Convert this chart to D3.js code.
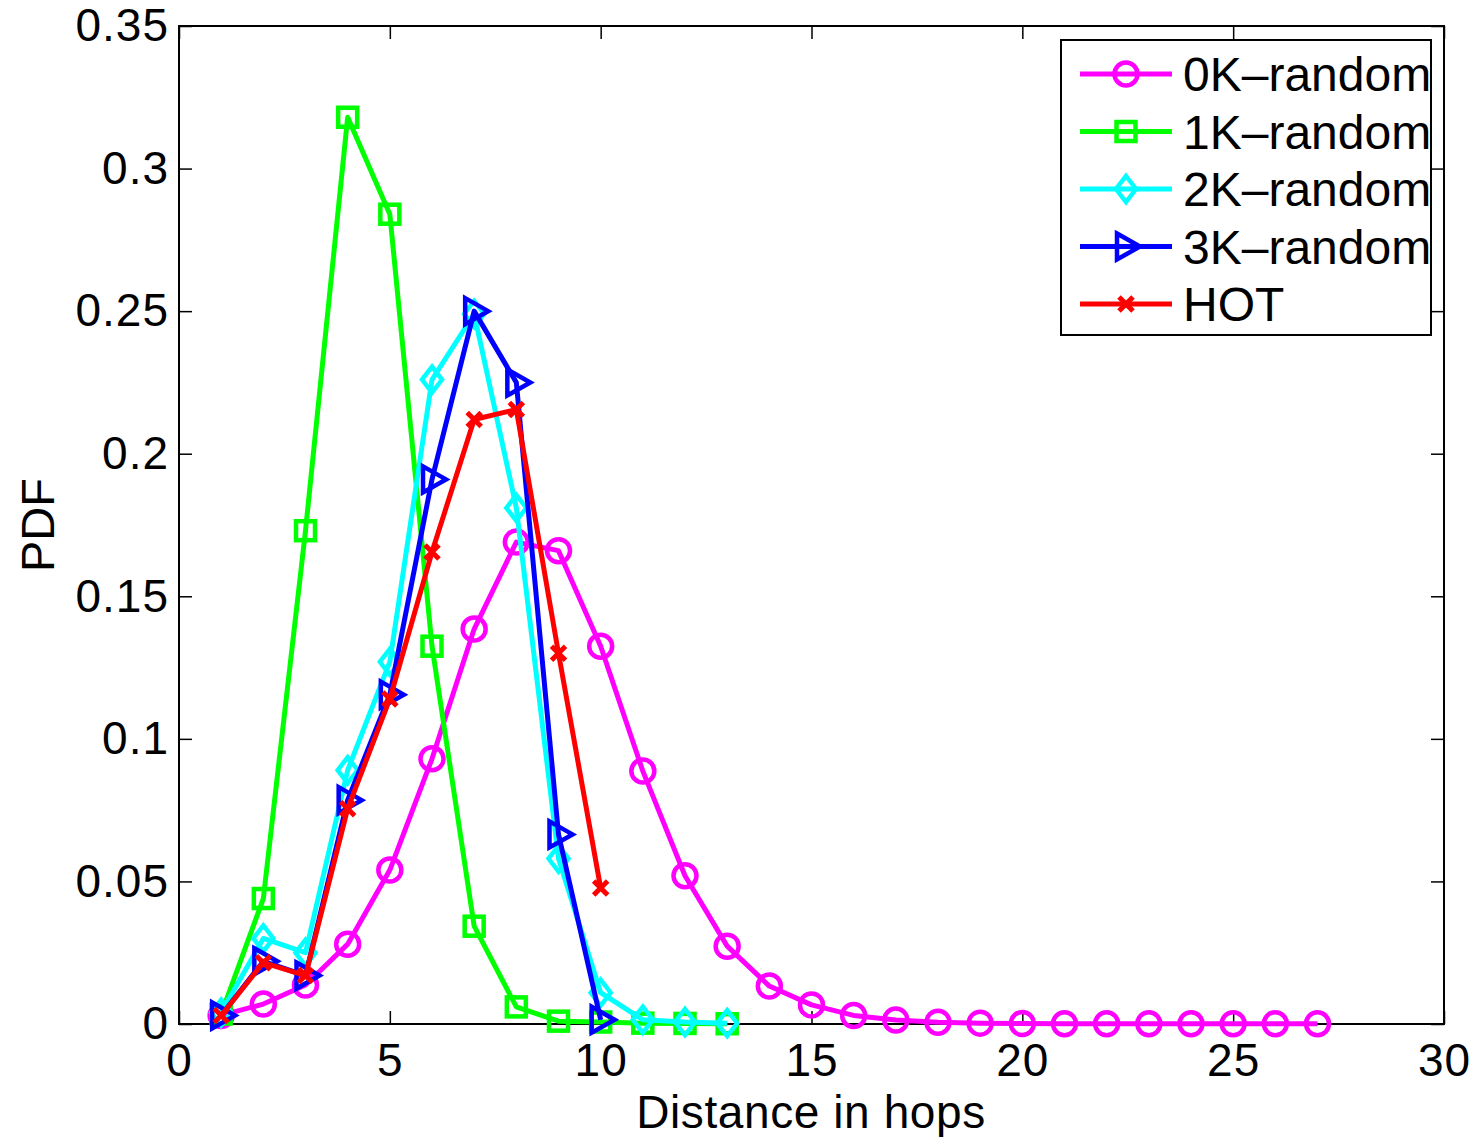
<!DOCTYPE html>
<html><head><meta charset="utf-8">
<script src="https://cdn.jsdelivr.net/npm/d3@7"></script>
<style>body{margin:0;background:#fff;} svg{display:block;} text{font-family:"Liberation Sans",Arial,sans-serif;}</style>
</head><body><svg id="c" width="1478" height="1137"></svg>
<script>
const hops0K = [1,2,3,4,5,6,7,8,9,10,11,12,13,14,15,16,17,18,19,20,21,22,23,24,25,26,27];
const pdf0K = [0.003,0.007,0.0137,0.028,0.054,0.093,0.1385,0.169,0.166,0.1325,0.0887,0.052,0.0273,0.0133,0.0067,0.003,0.0014,0.0006,0.0003,0.0002,0.0001,0.0001,0.0001,0.0001,0.0001,0.0001,0.0001];
const hops1K = [1,2,3,4,5,6,7,8,9,10,11,12,13];
const pdf1K = [0.0035,0.044,0.173,0.318,0.284,0.1325,0.0343,0.006,0.001,0.0007,0.0003,0.0002,0.0001];
const hops2K = [1,2,3,4,5,6,7,8,9,10,11,12,13];
const pdf2K = [0.004,0.030,0.025,0.089,0.127,0.226,0.249,0.181,0.058,0.011,0.0015,0.0007,0.0003];
const hops3K = [1,2,3,4,5,6,7,8,9,10];
const pdf3K = [0.003,0.022,0.017,0.0785,0.1155,0.191,0.250,0.225,0.0665,0.0015];
const hopsHOT = [1,2,3,4,5,6,7,8,9,10];
const pdfHOT = [0.003,0.0215,0.017,0.0755,0.114,0.1655,0.212,0.2155,0.130,0.0477];
const seriesNames = ["0K\u2013random","1K\u2013random","2K\u2013random","3K\u2013random","HOT"];
const seriesColors = ["#ff00ff","#00ff00","#00ffff","#0000ff","#ff0000"];
const seriesMarkers = ["circle","square","diamond","triangle","x"];
const xTicks = [0,5,10,15,20,25,30];
const yTicks = [0,0.05,0.1,0.15,0.2,0.25,0.3,0.35];
const xLabel = "Distance in hops";
const yLabel = "PDF";

const series = [
  {x:hops0K,y:pdf0K},{x:hops1K,y:pdf1K},{x:hops2K,y:pdf2K},{x:hops3K,y:pdf3K},{x:hopsHOT,y:pdfHOT}
].map((s,i)=>({name:seriesNames[i],color:seriesColors[i],marker:seriesMarkers[i],pts:s.x.map((v,j)=>[v,s.y[j]])}));

const svg = d3.select("#c");
const L=179,R=1444,T=26,B=1024;
const x = d3.scaleLinear().domain([0,30]).range([L,R]);
const y = d3.scaleLinear().domain([0,0.35]).range([B,T]);

const fmtY = d => d===0 ? "0" : String(+d.toFixed(2));
const tl = 13;
const tickFont = 46, tickLS = 1;
svg.append("g").attr("transform",`translate(0,${B})`)
  .call(d3.axisBottom(x).tickValues(xTicks).tickSize(-tl).tickPadding(19).tickFormat(d3.format("d")))
  .call(g=>{g.select(".domain").remove();g.selectAll("text").attr("font-size",tickFont).attr("letter-spacing",tickLS).attr("fill","#000").attr("dy","0.71em");g.selectAll("line").attr("stroke","#000").attr("stroke-width",1.5);});
svg.append("g").attr("transform",`translate(0,${T})`)
  .call(d3.axisTop(x).tickValues(xTicks).tickSize(-tl).tickFormat(""))
  .call(g=>{g.select(".domain").remove();g.selectAll("line").attr("stroke","#000").attr("stroke-width",1.5);});
svg.append("g").attr("transform",`translate(${L},0)`)
  .call(d3.axisLeft(y).tickValues(yTicks).tickSize(-tl).tickPadding(10).tickFormat(fmtY))
  .call(g=>{g.select(".domain").remove();g.selectAll("text").attr("font-size",tickFont).attr("letter-spacing",tickLS).attr("fill","#000");g.selectAll("line").attr("stroke","#000").attr("stroke-width",1.5);});
svg.append("g").attr("transform",`translate(${R},0)`)
  .call(d3.axisRight(y).tickValues(yTicks).tickSize(-tl).tickFormat(""))
  .call(g=>{g.select(".domain").remove();g.selectAll("line").attr("stroke","#000").attr("stroke-width",1.5);});
svg.append("rect").attr("x",L).attr("y",T).attr("width",R-L).attr("height",B-T)
  .attr("fill","none").attr("stroke","#000").attr("stroke-width",2);

svg.append("text").attr("x",811).attr("y",1128).attr("text-anchor","middle").attr("font-size",46).attr("letter-spacing",0.6).text(xLabel);
svg.append("text").attr("transform",`translate(54,525) rotate(-90)`).attr("text-anchor","middle").attr("font-size",47).text(yLabel);

function drawMarker(g,type,color,cx,cy){
  const sw=4.5;
  if(type==="circle") g.append("circle").attr("cx",cx).attr("cy",cy).attr("r",11.5).attr("fill","none").attr("stroke",color).attr("stroke-width",sw);
  else if(type==="square") g.append("rect").attr("x",cx-9.5).attr("y",cy-9.5).attr("width",19).attr("height",19).attr("fill","none").attr("stroke",color).attr("stroke-width",sw);
  else if(type==="diamond") g.append("path").attr("d",`M${cx},${cy-13}L${cx+10},${cy}L${cx},${cy+13}L${cx-10},${cy}Z`).attr("fill","none").attr("stroke",color).attr("stroke-width",sw);
  else if(type==="triangle") g.append("path").attr("d",`M${cx-9},${cy-13}L${cx+14},${cy}L${cx-9},${cy+13}Z`).attr("fill","none").attr("stroke",color).attr("stroke-width",sw);
  else if(type==="x") g.append("path").attr("d",`M${cx-7},${cy-7}L${cx+7},${cy+7}M${cx-7},${cy+7}L${cx+7},${cy-7}`).attr("fill","none").attr("stroke",color).attr("stroke-width",5);
}

const line = d3.line().x(d=>x(d[0])).y(d=>y(d[1]));
series.forEach(s=>{
  const g = svg.append("g");
  g.append("path").datum(s.pts).attr("d",line).attr("fill","none").attr("stroke",s.color).attr("stroke-width",5).attr("stroke-linejoin","round");
  s.pts.forEach(p=>drawMarker(g,s.marker,s.color,x(p[0]),y(p[1])));
});

const lg = svg.append("g");
lg.append("rect").attr("x",1061).attr("y",40).attr("width",370).attr("height",295).attr("fill","#fff").attr("stroke","#000").attr("stroke-width",2);
series.forEach((s,i)=>{
  const cy = 74 + i*57.5;
  lg.append("line").attr("x1",1080).attr("x2",1172).attr("y1",cy).attr("y2",cy).attr("stroke",s.color).attr("stroke-width",5);
  drawMarker(lg,s.marker,s.color,1126,cy);
  lg.append("text").attr("x",1183).attr("y",cy).attr("dy","0.36em").attr("font-size",48).text(s.name);
});
</script></body></html>
